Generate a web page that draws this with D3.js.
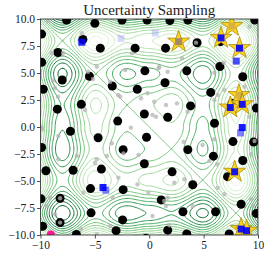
<!DOCTYPE html>
<html>
<head>
<meta charset="utf-8">
<script src="https://cdn.jsdelivr.net/npm/d3@7"></script>
<style>
body { margin: 0; background: #fff; }
</style>
</head>
<body>
<div id="chart"></div>
<script>
// objective surface behind the samples
function objective(a, b) {
  return -(Math.abs(a) * Math.sin(a) + Math.abs(b) * Math.sin(b));
}
var levels = d3.range(-16, 16.1, 2);

// unlabeled pool (gray)
var grayX = [-9.31, -6.20, -7.93, -8.97, -4.82, -5.62, -5.16, -8.85, -8.66, -3.59, -2.86, -8.39, -5.90, -9.89, -1.59, 4.30, 9.22, 6.85, 5.99, 3.01, 0.92, 1.69, -0.76, -0.16, 0.46, 1.54, 5.99, 6.29, 6.91, 8.76, 0.30, 0.62, 9.22, 3.53, -2.67, -1.69, -3.44, 3.16, -0.99, -2.37, 2.55, -9.83, -8.36, -4.82, -4.98, -3.90, -6.66, -8.36, -2.83, -6.06, -3.35, -9.12, -9.43, -8.66, -6.27, -4.82, -3.59, 4.91, 5.99, 5.53, 6.24, 6.29, 6.91, 1.69, 1.38, 1.54, 0.30, 1.84, 3.99, 9.37, 9.52, 9.37, 9.68, -1.08, -0.09, 2.30, 3.23, 0.86, -2.21, -8.2, -8.2];
var grayY = [9.81, 8.68, 6.85, 6.88, 5.58, 5.12, 4.44, 4.29, 3.61, 4.19, 2.96, 2.81, 1.57, 0.03, 6.82, 7.81, 9.29, 5.95, 5.03, 6.36, 5.58, 5.12, 2.66, 3.12, 2.34, 2.04, 2.50, 2.96, 3.43, 3.73, 1.11, 0.95, 0.95, 1.42, 2.81, -0.06, -1.51, -1.36, -2.59, -2.44, 2.19, -0.21, -0.83, -2.99, -3.31, -2.69, -2.69, -2.99, -4.69, -6.08, -6.55, -6.55, -7.31, -8.08, -9.47, -9.94, -9.17, -1.67, -1.14, -3.15, -3.45, -5.62, -6.23, -6.55, -6.85, -7.31, -8.24, -9.10, -7.31, -6.69, -7.31, -2.53, -1.30, -5.31, -6.08, -5.16, -4.84, 5.44, 5.28, -6.6, -8.85];

// labeled points (black)
var blackX = [-7.6, -5.0, -9.9, -6.1, -4.5, -8.4, -9.9, -5.5, -8.0, -3.4, -9.75, -6.25, -8.45, -2.9, -2.5, -0.2, 1.9, 3.55, 9.7, -1.3, 1.5, -0.4, 3.45, 6.5, 8.6, 4.4, 6.55, 1.45, -1.1, 5.65, 3.8, -0.45, 1.7, 9.85, 6.0, -7.25, -4.7, -9.9, -2.4, -0.25, 7.7, 9.6, 3.55, 5.9, 8.6, -0.45, -9.5, -7.0, -4.4, 2.1, 4.0, 7.2, -2.4, -5.4, -8.2, -9.95, 1.1, 8.45, -5.35, 3.1, 6.1, 9.85, -8.2, -9.8, -2.45, -3.05, -6.7, 1.7, 3.45, 7.35, -0.3, 7.6];
var blackY = [9.9, 9.6, 8.6, 8.1, 7.3, 6.9, 6.0, 4.7, 4.35, 3.8, 3.5, 2.1, 1.65, 0.55, 9.9, 9.9, 9.85, 9.9, 9.9, 7.3, 7.3, 5.2, 5.2, 5.6, 4.65, 7.8, 7.9, 4.1, 3.5, 3.2, 1.95, 1.2, 0.9, 1.75, 0.35, -0.4, -1.0, -1.9, -2.1, -0.95, -1.35, -1.4, -2.1, -2.7, -3.1, -3.4, -4.05, -4.0, -3.9, -4.15, -5.35, -4.6, -5.8, -5.7, -6.6, -6.65, -6.75, -7.15, -7.95, -7.85, -7.85, -8.0, -8.85, -9.2, -8.6, -9.6, -9.95, -9.55, -9.9, -9.9, -10.3, 2.2];

// points chosen by uncertainty sampling (stars)
var starX = [2.7, 7.6, 6.6, 8.3, 8.25, 7.45, 8.55, 7.85, 8.45, 8.95];
var starY = [7.9, 9.35, 8.25, 7.3, 2.95, 1.8, 2.1, -4.15, -9.45, -9.6];

// current batch (blue squares) and their weight
var squareX = [2.7, 7.6, 6.6, 8.3, 8.25, 7.45, 8.55, 7.85, 8.45, 8.95, -6.2, -2.6, 0.55, 8.0, 8.55, 8.4, -4.25, -4.0];
var squareY = [7.9, 9.35, 8.25, 7.3, 2.95, 1.8, 2.1, -4.15, -9.45, -9.6, 7.85, 8.2, 8.7, 6.1, -0.05, -0.55, -5.6, -5.85];
var squareW = [0.35, 0.15, 0.9, 0.9, 0.15, 0.9, 0.9, 0.9, 0.9, 0.9, 0.85, 0.15, 0.15, 0.7, 0.9, 0.5, 0.9, 0.5];

// query point
var queryX = [-9.05];
var queryY = [-9.95];

var width = 269, height = 256;
var x = d3.scaleLinear().domain([-10, 10]).range([40.5, 258]);
var y = d3.scaleLinear().domain([-10, 10]).range([235, 19]);

var svg = d3.select("#chart").append("svg")
  .attr("width", width)
  .attr("height", height)
  .style("font-family", "'Liberation Serif', 'DejaVu Serif', serif");

svg.append("clipPath").attr("id", "plot")
  .append("rect")
  .attr("x", x(-10)).attr("y", y(10))
  .attr("width", x(10) - x(-10)).attr("height", y(-10) - y(10));

// field on a grid slightly larger than the axes so border segments fall outside the clip
var n = 200, lo = -10.5, hi = 10.5, step = (hi - lo) / n;
var values = new Array(n * n);
for (var j = 0; j < n; j++) {
  for (var i = 0; i < n; i++) {
    values[j * n + i] = objective(lo + (i + 0.5) * step, hi - (j + 0.5) * step);
  }
}
var contours = d3.contours().size([n, n]).thresholds(levels)(values);
var color = d3.scaleSequential(d3.interpolateGreens)
  .domain([d3.min(levels), d3.max(levels)]);

var toScreen = d3.geoTransform({
  point: function(px, py) {
    this.stream.point(x(lo + px * step), y(hi - py * step));
  }
});
var path = d3.geoPath(toScreen);

var plot = svg.append("g").attr("clip-path", "url(#plot)");

plot.selectAll("path.c")
  .data(contours)
  .enter().append("path")
  .attr("class", "c")
  .attr("d", path)
  .attr("fill", "none")
  .attr("stroke", function(d) { return color(d.value); })
  .attr("stroke-width", 1);

plot.selectAll("circle.b")
  .data(d3.range(blackX.length))
  .enter().append("circle")
  .attr("cx", function(i) { return x(blackX[i]); })
  .attr("cy", function(i) { return y(blackY[i]); })
  .attr("r", 4.5)
  .attr("fill", "black");

plot.selectAll("circle.g")
  .data(d3.range(grayX.length))
  .enter().append("circle")
  .attr("cx", function(i) { return x(grayX[i]); })
  .attr("cy", function(i) { return y(grayY[i]); })
  .attr("r", 2.2)
  .attr("fill", "#b4b4b4")
  .attr("opacity", 0.75);

plot.selectAll("circle.q")
  .data(d3.range(queryX.length))
  .enter().append("circle")
  .attr("cx", function(i) { return x(queryX[i]); })
  .attr("cy", function(i) { return y(queryY[i]); })
  .attr("r", 4)
  .attr("fill", "#ff1493");

var star = d3.symbol().type(d3.symbolStar).size(150);
plot.selectAll("path.s")
  .data(d3.range(starX.length))
  .enter().append("path")
  .attr("d", star)
  .attr("transform", function(i) { return "translate(" + x(starX[i]) + "," + y(starY[i]) + ")"; })
  .attr("fill", "#ffd21c")
  .attr("stroke", "#a8900c")
  .attr("stroke-width", 0.8);

plot.selectAll("rect.sq")
  .data(d3.range(squareX.length))
  .enter().append("rect")
  .attr("x", function(i) { return x(squareX[i]) - 3.5; })
  .attr("y", function(i) { return y(squareY[i]) - 3.5; })
  .attr("width", 7).attr("height", 7)
  .attr("fill", "blue")
  .attr("opacity", function(i) { return squareW[i]; });

// axes
var xAxis = d3.axisBottom(x).tickValues([-10, -5, 0, 5, 10]).tickSize(3.5).tickPadding(2)
  .tickFormat(function(d) { return d3.format("d")(d).replace("-", "\u2212"); });
var yAxis = d3.axisLeft(y).tickValues(d3.range(-10, 10.1, 2.5)).tickSize(3.5).tickPadding(2)
  .tickFormat(function(d) { return d3.format(".1f")(d).replace("-", "\u2212"); });

var gx = svg.append("g").attr("transform", "translate(0," + y(-10) + ")").call(xAxis);
var gy = svg.append("g").attr("transform", "translate(" + x(-10) + ",0)").call(yAxis);
[gx, gy].forEach(function(g) {
  g.select(".domain").remove();
  g.selectAll("text").attr("font-size", 11.5).attr("font-family", "'Liberation Serif', serif").attr("fill", "#222");
  g.selectAll("line").attr("stroke", "#222").attr("stroke-width", 0.8);
});

svg.append("rect")
  .attr("x", x(-10)).attr("y", y(10))
  .attr("width", x(10) - x(-10)).attr("height", y(-10) - y(10))
  .attr("fill", "none")
  .attr("stroke", "#222")
  .attr("stroke-width", 0.8);

svg.append("text")
  .attr("x", (x(-10) + x(10)) / 2)
  .attr("y", 15)
  .attr("text-anchor", "middle")
  .attr("font-size", 15)
  .attr("fill", "#222")
  .text("Uncertainty Sampling");
</script>
</body>
</html>
